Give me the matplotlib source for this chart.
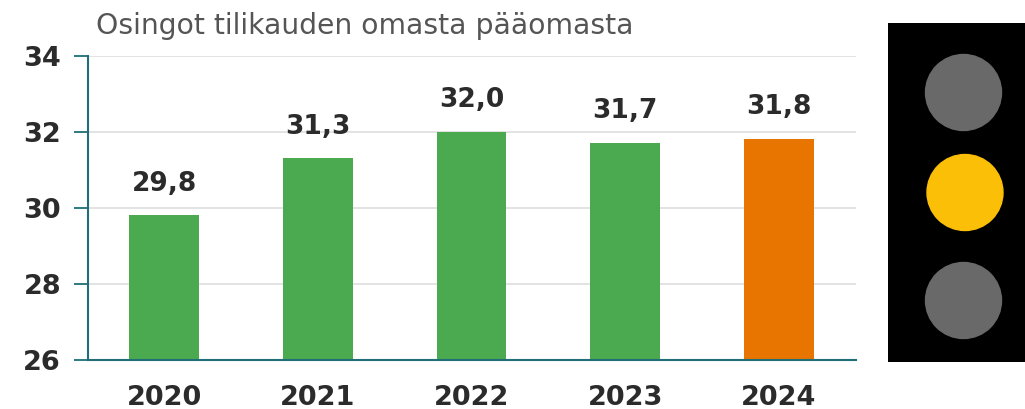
import matplotlib
matplotlib.use("Agg")
import matplotlib.pyplot as plt
from matplotlib.patches import Circle

W, H = 1025, 409

title = "Osingot tilikauden omasta pääomasta"
years = ["2020", "2021", "2022", "2023", "2024"]
values = [29.8, 31.3, 32.0, 31.7, 31.8]
value_labels = ["29,8", "31,3", "32,0", "31,7", "31,8"]
bar_colors = ["#4BAA50", "#4BAA50", "#4BAA50", "#4BAA50", "#E87500"]
y_ticks = [26, 28, 30, 32, 34]
light_colors = ["#696969", "#FBBF08", "#696969"]

BOLD = "DejaVu Sans"
fig = plt.figure(figsize=(W / 100, H / 100), dpi=100, facecolor="white")

def box(l, t, r, b):
    return [l / W, 1 - b / H, (r - l) / W, (b - t) / H]

ax = fig.add_axes(box(87.5, 55.5, 855.5, 360))
x = range(len(years))
ax.bar(x, values, width=0.455, color=bar_colors, zorder=3)
ax.set_xlim(-0.5, 4.5)
ax.set_ylim(26, 34)
ax.set_yticks(y_ticks)
ax.set_xticks(list(x))
ax.set_xticklabels(years)
ax.grid(axis="y", color="#E0E0E0", lw=1.3, zorder=1)
ax.set_axisbelow(True)
for s in ("top", "right"):
    ax.spines[s].set_visible(False)
for s in ("left", "bottom"):
    ax.spines[s].set_color("#1F6E78")
    ax.spines[s].set_linewidth(1.5)
    ax.spines[s].set_zorder(4)
ax.tick_params(axis="y", length=10, width=1.3, color="#1F6E78", pad=9,
               labelsize=19.5, labelcolor="#2B2B2B")
ax.tick_params(axis="x", length=0, pad=18, labelsize=19.5, labelcolor="#2B2B2B")
for lab in ax.get_yticklabels() + ax.get_xticklabels():
    lab.set_fontfamily(BOLD)
    lab.set_fontweight("bold")

for xi, v, lab in zip(x, values, value_labels):
    ax.annotate(lab, (xi, v), xytext=(0, 13.5), textcoords="offset points",
                ha="center", va="bottom", fontsize=19, fontweight="bold",
                fontfamily=BOLD, color="#2B2B2B")

fig.text(96 / W, 1 - 26 / H, title, ha="left", va="center", fontsize=20.3,
         fontfamily="DejaVu Sans", fontweight="normal", color="#555555")

panel = fig.add_axes(box(888, 23, 1025, 362))
panel.set_xlim(888, 1025)
panel.set_ylim(362, 23)
panel.set_facecolor("black")
panel.set_xticks([])
panel.set_yticks([])
for s in panel.spines.values():
    s.set_visible(False)
for c, (cx, cy) in zip(light_colors, [(963.5, 92.5), (965, 192.5), (963.5, 300.5)]):
    panel.add_patch(Circle((cx, cy), 38, color=c))

fig.savefig("out.png", dpi=100, facecolor="white")
